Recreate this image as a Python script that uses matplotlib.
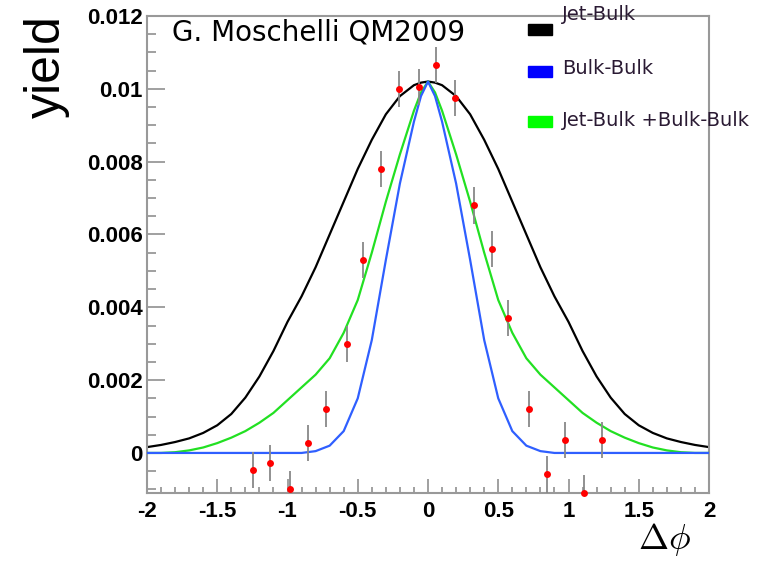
import matplotlib
matplotlib.use("Agg")
import matplotlib.pyplot as plt
from matplotlib.patches import Rectangle
from matplotlib.ticker import FixedLocator, MultipleLocator

plt.rcParams['mathtext.fontset'] = 'cm'

# measured yield vs delta phi
dphi = [-1.245, -1.125, -0.98, -0.852, -0.726, -0.579, -0.465, -0.337, -0.204, -0.064,
        0.055, 0.192, 0.327, 0.453, 0.572, 0.717, 0.845, 0.973, 1.113, 1.236]
yld = [-0.00047, -0.00027, -0.0010, 0.00027, 0.0012, 0.0030, 0.0053, 0.0078, 0.0100, 0.01005,
       0.01065, 0.00975, 0.0068, 0.0056, 0.0037, 0.0012, -0.00059, 0.00035, -0.0011, 0.00035]
yld_err = [0.0005] * 20

# model curves
curve_x = [-2.0, -1.9, -1.8, -1.7, -1.6, -1.5, -1.4, -1.3, -1.2, -1.1, -1.0,
           -0.9, -0.8, -0.7, -0.6, -0.5, -0.4, -0.3, -0.2, -0.1, -0.05, 0.0,
           0.05, 0.1, 0.2, 0.3, 0.4, 0.5, 0.6, 0.7, 0.8, 0.9,
           1.0, 1.1, 1.2, 1.3, 1.4, 1.5, 1.6, 1.7, 1.8, 1.9, 2.0]
jet_bulk = [0.00016, 0.00022, 0.00030, 0.00040, 0.00055, 0.00076, 0.00107, 0.00152, 0.0021, 0.0028, 0.0036,
            0.0043, 0.0051, 0.0060, 0.0069, 0.0078, 0.0086, 0.0093, 0.0098, 0.0101, 0.01017, 0.0102,
            0.01017, 0.0101, 0.0098, 0.0093, 0.0086, 0.0078, 0.0069, 0.0060, 0.0051, 0.0043,
            0.0036, 0.0028, 0.0021, 0.00152, 0.00107, 0.00076, 0.00055, 0.00040, 0.00030, 0.00022, 0.00016]
bulk_bulk = [0, 0, 0, 0, 0, 0, 0, 0, 0, 0, 0,
             0, 0.00005, 0.0002, 0.0006, 0.0015, 0.0031, 0.0053, 0.0074, 0.0091, 0.0098, 0.0102,
             0.0098, 0.0091, 0.0074, 0.0053, 0.0031, 0.0015, 0.0006, 0.0002, 0.00005, 0,
             0, 0, 0, 0, 0, 0, 0, 0, 0, 0, 0]
combined = [0, 0, 0.00002, 0.00007, 0.00015, 0.00027, 0.00042, 0.0006, 0.00083, 0.0011, 0.00145,
            0.0018, 0.00215, 0.0026, 0.0033, 0.0042, 0.0055, 0.0069, 0.0082, 0.0094, 0.0099, 0.0102,
            0.0099, 0.0094, 0.0082, 0.0069, 0.0055, 0.0042, 0.0033, 0.0026, 0.00215, 0.0018,
            0.00145, 0.0011, 0.00083, 0.0006, 0.00042, 0.00027, 0.00015, 0.00007, 0.00002, 0, 0]

xticks = [-2, -1.5, -1, -0.5, 0, 0.5, 1, 1.5, 2]
xtick_labels = ["-2", "-1.5", "-1", "-0.5", "0", "0.5", "1", "1.5", "2"]
yticks = [0, 0.002, 0.004, 0.006, 0.008, 0.01, 0.012]
ytick_labels = ["0", "0.002", "0.004", "0.006", "0.008", "0.01", "0.012"]

W, H = 768, 561
fig = plt.figure(figsize=(W / 100, H / 100), dpi=100)
ax = fig.add_axes([147 / W, 1 - 493 / H, (709 - 147) / W, (493 - 16) / H])

ax.plot(curve_x, jet_bulk, color="black", lw=1.6, zorder=2)
ax.plot(curve_x, combined, color="#22e022", lw=1.6, zorder=3)
ax.plot(curve_x, bulk_bulk, color="#2f5fff", lw=1.6, zorder=4)

ax.errorbar(dphi, yld, yerr=yld_err, fmt="none", ecolor="#888888", elinewidth=1.3, zorder=5)
ax.plot(dphi, yld, "o", color="red", ms=5, mec="none", zorder=6, clip_on=False)

ax.set_xlim(-2, 2)
ax.set_ylim(-0.0011, 0.012)

ax.xaxis.set_major_locator(FixedLocator(xticks))
ax.set_xticklabels(xtick_labels)
ax.xaxis.set_minor_locator(MultipleLocator(0.1))
ax.yaxis.set_major_locator(FixedLocator(yticks))
ax.set_yticklabels(ytick_labels)
ax.yaxis.set_minor_locator(MultipleLocator(0.0005))

for lab in ax.get_xticklabels() + ax.get_yticklabels():
    lab.set_family("Liberation Sans")
    lab.set_weight("bold")
    lab.set_fontsize(16)

ax.tick_params(axis="both", which="both", direction="in", color="#999999", width=1.3)
ax.tick_params(axis="x", which="major", length=10, pad=6)
ax.tick_params(axis="x", which="minor", length=4.5)
ax.tick_params(axis="y", which="major", length=13, pad=3)
ax.tick_params(axis="y", which="minor", length=6.5)
for sp in ax.spines.values():
    sp.set_color("#999999")
    sp.set_linewidth(1.5)

fig.text(47 / W, 1 - 67 / H, "yield", rotation=90, family="Liberation Sans",
         fontsize=36, ha="center", va="center")
fig.text(664 / W, 1 - 539 / H, r"$\Delta\phi$", fontsize=26, ha="center", va="center")
fig.text(172 / W, 1 - 33 / H, "G. Moschelli QM2009", fontsize=20, ha="left", va="center")

# legend drawn by hand
legend_entries = [("Jet-Bulk", "black", 15, 30),
                  ("Bulk-Bulk", "#0000ff", 68, 72),
                  ("Jet-Bulk +Bulk-Bulk", "#00ff00", 120, 122)]
for label, col, ty, py in legend_entries:
    fig.patches.append(Rectangle((528 / W, 1 - (py + 5) / H), 24 / W, 11 / H,
                                 transform=fig.transFigure, color=col))
    fig.text(562 / W, 1 - ty / H, label, fontsize=14, color="#2a1a33",
             ha="left", va="center", zorder=10)

fig.savefig("out.png", dpi=100)
